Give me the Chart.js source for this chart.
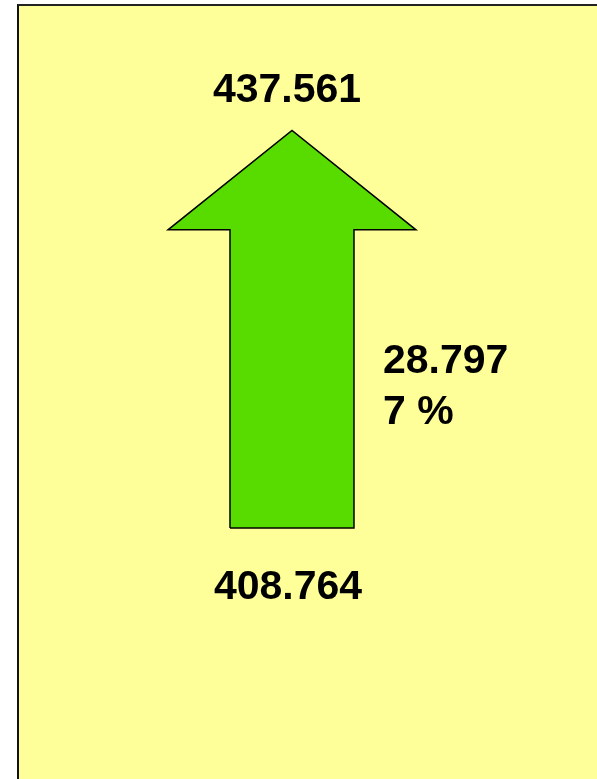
<!DOCTYPE html>
<html>
<head>
<meta charset="utf-8">
<script src="https://cdn.jsdelivr.net/npm/chart.js@4/dist/chart.umd.min.js"></script>
<style>
  html, body { margin: 0; padding: 0; background: #fff; }
  #frame {
    position: absolute; left: 17px; top: 4px; right: 0; bottom: 0;
    background: #ffff99;
    border-left: 2px solid #111;
    border-top: 2px solid #222;
  }
  #chart { position: absolute; left: 0; top: 0; }
</style>
</head>
<body>
<div id="frame"></div>
<canvas id="chart" width="597" height="779"></canvas>
<script>
// values shown on the arrow (previous -> current)
const periods = ['previous', 'current'];
const values = [408764, 437561];
const change = values[1] - values[0];                       // 28.797
const changePct = Math.round(change / values[0] * 100);     // 7

// value axis range (hidden)
const Y_MIN = 390600;
const Y_MAX = 447000;
// x axis in arrow-width units (hidden), arrow centred on 0
const X_MIN = -2.355;
const X_MAX = 2.46;

const HEAD_FRAC = 0.25;   // share of the change taken by the arrow head
const SHAFT_HALF = 0.5;
const HEAD_HALF = 1;

const fmt = (n) => String(Math.round(n)).replace(/\B(?=(\d{3})+(?!\d))/g, '.');

const start = values[0];
const end = values[1];
const headBase = end - change * HEAD_FRAC;

const arrow = [
  { x: -SHAFT_HALF, y: start },
  { x: SHAFT_HALF, y: start },
  { x: SHAFT_HALF, y: headBase },
  { x: HEAD_HALF, y: headBase },
  { x: 0, y: end },
  { x: -HEAD_HALF, y: headBase },
  { x: -SHAFT_HALF, y: headBase },
  { x: -SHAFT_HALF, y: start },
];

const FONT = 'bold 41px "Liberation Sans", Arial, sans-serif';

const labelPlugin = {
  id: 'arrowLabels',
  afterDatasetsDraw(chart) {
    const { ctx, scales: { x, y } } = chart;
    const cx = x.getPixelForValue(0);
    ctx.save();
    ctx.font = FONT;
    ctx.fillStyle = '#000';
    ctx.textBaseline = 'alphabetic';

    ctx.textAlign = 'center';
    ctx.fillText(fmt(end), cx - 5, y.getPixelForValue(end) - 28);
    ctx.fillText(fmt(start), cx - 4, y.getPixelForValue(start) + 71);

    ctx.textAlign = 'left';
    const lx = x.getPixelForValue(SHAFT_HALF) + 29;
    const mid = (y.getPixelForValue(start) + y.getPixelForValue(headBase)) / 2;
    ctx.fillText(fmt(change), lx, mid - 6);
    ctx.fillText(changePct + ' %', lx, mid + 45);
    ctx.restore();
  }
};

new Chart(document.getElementById('chart'), {
  type: 'scatter',
  data: {
    datasets: [{
      label: periods.join(' - '),
      data: arrow,
      showLine: true,
      fill: 'shape',
      tension: 0,
      backgroundColor: '#58dc00',
      borderColor: '#000',
      borderWidth: 1.5,
      borderJoinStyle: 'miter',
      pointRadius: 0,
      pointHoverRadius: 0,
    }]
  },
  options: {
    responsive: false,
    animation: false,
    layout: { padding: 0 },
    plugins: {
      legend: { display: false },
      tooltip: { enabled: false },
    },
    scales: {
      x: { type: 'linear', min: X_MIN, max: X_MAX, display: false },
      y: { type: 'linear', min: Y_MIN, max: Y_MAX, display: false },
    }
  },
  plugins: [labelPlugin]
});
</script>
</body>
</html>
